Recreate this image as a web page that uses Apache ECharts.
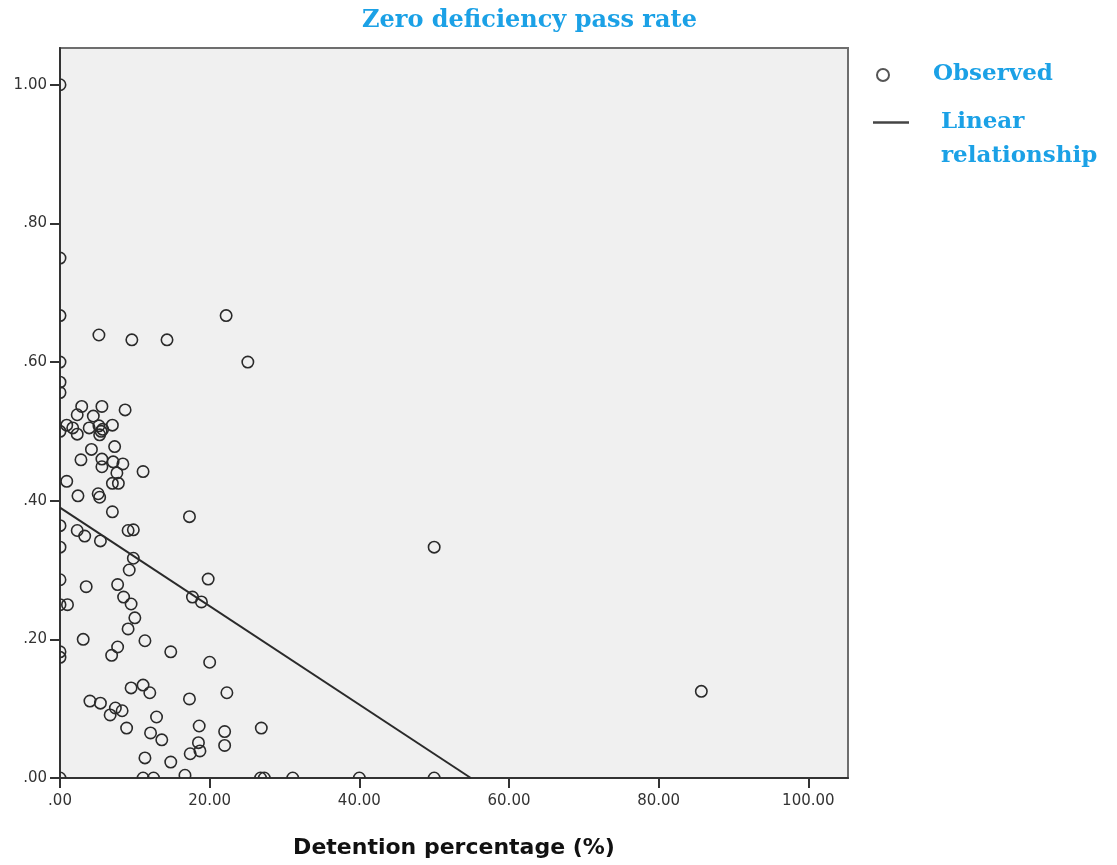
<!DOCTYPE html>
<html>
<head>
<meta charset="utf-8">
<script src="https://cdn.jsdelivr.net/npm/echarts@6/dist/echarts.min.js"></script>
<style>html,body{margin:0;padding:0;background:#fff}#c{width:1117px;height:865px}</style>
</head>
<body>
<div id="c"></div>
<script>
// Observed points: [detention %, zero deficiency pass rate]
const observedX = [0,0,0,0,0,0,0,0,0,0,0,0,0,0,
  22.2,5.2,9.6,14.3,25.1,
  2.9,5.6,8.7,2.3,4.45,0.9,1.7,2.3,3.9,5.2,5.5,5.3,5.7,7.0,
  4.2,7.3,2.8,5.6,5.6,7.1,8.4,7.6,11.1,0.9,7.0,7.8,2.4,5.1,5.3,7.0,17.3,
  2.3,3.3,5.4,9.1,9.8,
  9.8,9.25,3.5,7.7,8.5,9.5,1.0,10.0,9.1,3.1,11.35,7.7,6.9,14.8,19.8,17.7,18.9,20.0,
  9.5,11.1,12.0,17.3,22.3,4.0,5.4,7.4,8.3,6.7,12.9,8.9,18.6,12.1,13.6,18.5,18.7,17.4,11.35,14.8,16.7,22.0,22.0,26.9,
  11.1,12.5,26.8,27.3,31.1,40,50,50,85.7];
const observedY = [1.00,0.75,0.667,0.60,0.571,0.556,0.50,0.364,0.333,0.286,0.25,0.182,0.174,0,
  0.667,0.639,0.632,0.632,0.60,
  0.536,0.536,0.531,0.524,0.522,0.509,0.505,0.496,0.505,0.508,0.50,0.495,0.503,0.509,
  0.474,0.478,0.459,0.46,0.449,0.456,0.453,0.44,0.442,0.428,0.425,0.425,0.407,0.41,0.405,0.384,0.377,
  0.357,0.349,0.342,0.357,0.358,
  0.317,0.30,0.276,0.279,0.261,0.251,0.25,0.231,0.215,0.20,0.198,0.189,0.177,0.182,0.287,0.261,0.254,0.167,
  0.130,0.134,0.123,0.114,0.123,0.111,0.108,0.101,0.097,0.091,0.088,0.072,0.075,0.065,0.055,0.051,0.039,0.035,0.029,0.023,0.004,0.067,0.047,0.072,
  0,0,0,0,0,0,0,0.333,0.125];
// Linear relationship endpoints
const lineX = [0, 54.9];
const lineY = [0.39, 0];
const xTicks = [0, 20, 40, 60, 80, 100];
const yTicks = [0, 0.2, 0.4, 0.6, 0.8, 1.0];
const titleText = 'Zero deficiency pass rate';
const xName = 'Detention percentage (%)';
const legendNames = ['Observed', 'Linear', 'relationship'];

const fmt = v => v.toFixed(2).replace(/^0\./, '.');
const scatterData = observedX.map((x, i) => [x, observedY[i]]);
const lineData = lineX.map((x, i) => [x, lineY[i]]);
const blue = '#1ba1e6';
const serif = '"DejaVu Serif", serif';

const chart = echarts.init(document.getElementById('c'), null, {renderer: 'canvas'});
chart.setOption({
  animation: false,
  backgroundColor: '#ffffff',
  grid: {left: 60, top: 48, right: 269, bottom: 87, show: true,
    backgroundColor: '#f0f0f0', borderColor: '#6e6e6e', borderWidth: 2},
  xAxis: {
    type: 'value', min: 0, max: 105.3,
    name: xName, nameLocation: 'middle', nameGap: 59,
    nameTextStyle: {fontFamily: '"DejaVu Sans", sans-serif', fontWeight: 'bold', fontSize: 22, color: '#111'},
    axisLine: {show: true, onZero: false, lineStyle: {color: '#333', width: 2}},
    axisTick: {show: true, length: 10, customValues: xTicks, lineStyle: {color: '#333', width: 2}},
    axisLabel: {customValues: xTicks, formatter: fmt, margin: 16, fontFamily: '"DejaVu Sans", sans-serif', fontSize: 15, color: '#333'},
    splitLine: {show: false}
  },
  yAxis: {
    type: 'value', min: 0, max: 1.053,
    axisLine: {show: true, onZero: false, lineStyle: {color: '#333', width: 2}},
    axisTick: {show: true, length: 10, customValues: yTicks, lineStyle: {color: '#333', width: 2}},
    axisLabel: {customValues: yTicks, formatter: fmt, margin: 13, fontFamily: '"DejaVu Sans", sans-serif', fontSize: 15, color: '#333'},
    splitLine: {show: false}
  },
  series: [
    {
      type: 'custom', name: 'Observed', clip: true, z: 3,
      data: scatterData,
      renderItem: function (params, api) {
        const p = api.coord([api.value(0), api.value(1)]);
        const cs = params.coordSys;
        return {type: 'circle', shape: {cx: p[0], cy: p[1], r: 5.7},
          style: {fill: 'none', stroke: '#2a2a2a', lineWidth: 1.6},
          clipPath: {type: 'rect', shape: {x: cs.x, y: cs.y, width: cs.width, height: cs.height}}};
      }
    },
    {
      type: 'line', name: 'Linear relationship', data: lineData, symbol: 'none', z: 4,
      lineStyle: {color: '#2a2a2a', width: 2}
    }
  ],
  graphic: [
    {type: 'text', left: 362, top: 9, style: {text: titleText, font: 'bold 24px ' + serif, fill: blue}},
    {type: 'circle', shape: {cx: 883, cy: 75, r: 6}, style: {fill: 'none', stroke: '#555', lineWidth: 2}},
    {type: 'text', left: 933, top: 63, style: {text: legendNames[0], font: 'bold 23px ' + serif, fill: blue}},
    {type: 'line', shape: {x1: 873, y1: 122.5, x2: 909, y2: 122.5}, style: {stroke: '#444', lineWidth: 2.5}},
    {type: 'text', left: 941, top: 111, style: {text: legendNames[1], font: 'bold 23px ' + serif, fill: blue}},
    {type: 'text', left: 941, top: 145, style: {text: legendNames[2], font: 'bold 23px ' + serif, fill: blue}}
  ]
});
</script>
</body>
</html>
